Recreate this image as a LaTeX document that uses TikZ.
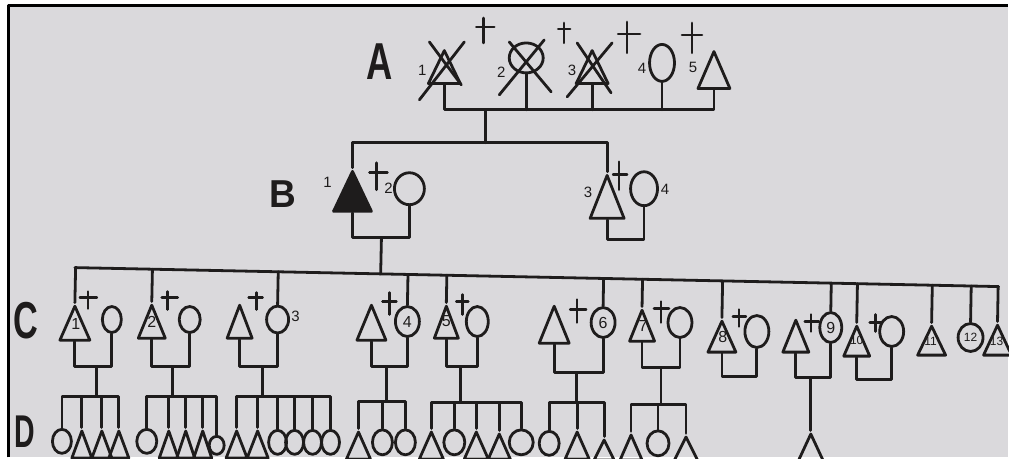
\documentclass[tikz,border=0pt]{standalone}
\usepackage{fontspec}
\usepackage{graphicx}
\setmainfont{Liberation Sans}
\usetikzlibrary{shapes.geometric,calc}
\definecolor{paper}{RGB}{218,217,220}
\definecolor{ink}{RGB}{30,28,28}
\begin{document}
\begin{tikzpicture}[x=1pt,y=-1pt,color=ink,line width=2.8pt,line join=round,line cap=round,
  pt/.style 2 args={draw,isosceles triangle,isosceles triangle stretches,shape border rotate=90,inner sep=0pt,minimum width=#1pt,minimum height=#2pt,anchor=apex},
  pc/.style 2 args={draw,ellipse,inner sep=0pt,minimum width=#1pt,minimum height=#2pt},
  lab/.style={inner sep=0pt,font=\fontsize{15}{15}\selectfont},
  clab/.style={inner sep=0pt,font=\fontsize{16}{16}\selectfont},
  slab/.style={inner sep=0pt,font=\fontsize{12}{12}\selectfont},
  gen/.style={inner sep=0pt,font=\fontsize{#1}{#1}\selectfont\bfseries},
  dag/.style={line width=2.6pt}]
% background and frame
\fill[white] (0,0) rectangle (1009,458);
\fill[paper] (9,6) rectangle (1009,458);
\draw[black,line width=3pt,line cap=butt] (9,458) -- (9,6) -- (1009,6);
\useasboundingbox (0,0) rectangle (1009,458);
% generation letters
\node[gen=52] (GA) at (380,62) {\scalebox{0.7}[1]{A}};
\node[gen=39] (GB) at (283,194) {\scalebox{0.95}[1]{B}};
\node[gen=52] (GC) at (26,321) {\scalebox{0.66}[1]{C}};
\node[gen=46] (GD) at (25,432) {\scalebox{0.62}[1]{D}};
% ---------- generation A ----------
\node[pt={32}{33}] (a1) at (445,47) {};
\node[pc={34}{30}] (a2) at (527,58) {};
\node[pt={32}{33}] (a3) at (593,47) {};
\node[pc={25}{37}] (a4) at (663,63) {};
\node[pt={32}{37}] (a5) at (715,48) {};
\draw (420,100) -- (465,42) (430,42) -- (462,85);
\draw (500,95) -- (545,40) (510,42) -- (552,92);
\draw (568,97) -- (613,43) (578,43) -- (612,93);
\node[lab] (na1) at (423,70) {1};
\node[lab] (na2) at (502,72) {2};
\node[lab] (na3) at (573,70) {3};
\node[lab] (na4) at (643,68) {4};
\node[lab] (na5) at (694,68) {5};
\draw[dag] (484,18) -- (484,43) (477,27) -- (495,27);
\draw[dag] (565,23) -- (565,43) (559,29) -- (571,29);
\draw[dag] (628,22) -- (628,53) (619,34) -- (641,34);
\draw[dag] (693,23) -- (693,53) (683,35) -- (703,35);
\coordinate (ja) at (486,110);
\coordinate (jb) at (486,143);
\draw (a1.south) |- (ja) -| (a5.south);
\draw (a2.south) -- (a2.south |- ja);
\draw (a3.south) -- (a3.south |- ja);
\draw (a4.south) -- (a4.south |- ja);
\draw (ja) -- (jb);
% ---------- generation B ----------
\node[pt={38}{40},fill=ink] (b1) at (353,168) {};
\node[pc={30}{32}] (b2) at (410,189) {};
\node[pt={34}{43}] (b3) at (608,172) {};
\node[pc={27}{34}] (b4) at (645,189) {};
\node[lab] (nb1) at (328,183) {1};
\node[lab] (nb2) at (389,189) {2};
\node[lab] (nb3) at (589,193) {3};
\node[lab] (nb4) at (666,190) {4};
\draw[dag] (377,163) -- (377,190) (370,173) -- (388,173);
\draw[dag] (620,162) -- (620,190) (614,175) -- (628,175);
\draw (b1.north) |- (jb) -| (b3.north);
\coordinate (fb) at (382,238);
\draw (b1.south) |- (fb) -| (b2.south);
\coordinate (fb2) at (634,240);
\draw (b3.south) |- (fb2) -| (b4.south);
% ---------- generation C ----------
\coordinate (CL) at (75,268);
\coordinate (CR) at (1000,287);
\draw (CL) -- (CR);
\draw (fb) -- ($(CL)!(fb)!(CR)$);
\node[pt={30}{34}] (c1) at (75,303) {};
\node[pc={19}{26}] (s1) at (112,320) {};
\node[pt={27}{33}] (c2) at (152,302) {};
\node[pc={21}{26}] (s2) at (190,320) {};
\node[pt={25}{33}] (s3) at (240,302) {};
\node[pc={22}{27}] (c3) at (278,320) {};
\node[pt={29}{35}] (s4) at (372,302) {};
\node[pc={24}{30}] (c4) at (408,322) {};
\node[pt={24}{32}] (c5) at (447,303) {};
\node[pc={22}{30}] (s5) at (478,322) {};
\node[pt={30}{37}] (s6) at (555,303) {};
\node[pc={24}{30}] (c6) at (604,323) {};
\node[pt={25}{31}] (c7) at (643,307) {};
\node[pc={24}{30}] (s7) at (681,323) {};
\node[pt={28}{31}] (c8) at (723,318) {};
\node[pc={24}{32}] (s8) at (758,332) {};
\node[pt={26}{32}] (s9) at (797,317) {};
\node[pc={22}{30}] (c9) at (832,328) {};
\node[pt={26}{30}] (c10) at (858,323) {};
\node[pc={24}{30}] (s10) at (893,332) {};
\node[pt={28}{29}] (c11) at (933,323) {};
\node[pc={25}{28}] (c12) at (972,338) {};
\node[pt={28}{30}] (c13) at (999,322) {};
\node[clab] (nc1) at (76,324) {1};
\node[clab] (nc2) at (152,322) {2};
\node[lab] (nc3) at (296,317) {3};
\node[clab] (nc4) at (c4.center) {4};
\node[clab] (nc5) at (447,322) {5};
\node[clab] (nc6) at (c6.center) {6};
\node[clab] (nc7) at (644,326) {7};
\node[clab] (nc8) at (724,337) {8};
\node[clab] (nc9) at (c9.center) {9};
\node[slab] (nc10) at (858,341) {10};
\node[slab] (nc11) at (932,342) {11};
\node[slab] (nc12) at (c12.center) {12};
\node[slab] (nc13) at (998,342) {13};
\foreach \p in {c1,c2,c3,c4,c5,c6,c7,c8,c9,c10,c11,c12,c13}
  \draw (\p.north) -- ($(CL)!(\p.north)!(CR)$);
\draw[dag] (88,292) -- (88,309) (80,298) -- (97,298);
\draw[dag] (168,292) -- (168,310) (162,298) -- (178,298);
\draw[dag] (257,293) -- (257,310) (249,298) -- (263,298);
\draw[dag] (390,293) -- (390,315) (383,302) -- (397,302);
\draw[dag] (463,295) -- (463,315) (457,302) -- (469,302);
\draw[dag] (578,300) -- (578,323) (571,310) -- (587,310);
\draw[dag] (662,302) -- (662,323) (655,309) -- (670,309);
\draw[dag] (740,310) -- (740,327) (734,317) -- (747,317);
\draw[dag] (812,315) -- (812,332) (806,322) -- (820,322);
\draw[dag] (877,315) -- (877,332) (871,323) -- (883,323);
\coordinate (f1) at (97,367);
\coordinate (f2) at (173,367);
\coordinate (f3) at (263,367);
\coordinate (f4) at (387,367);
\coordinate (f5) at (461,367);
\coordinate (f6) at (577,373);
\coordinate (f7) at (662,368);
\coordinate (f8) at (740,377);
\coordinate (f9) at (812,378);
\coordinate (f10) at (877,380);
\draw (c1.south) |- (f1) -| (s1.south);
\draw (c2.south) |- (f2) -| (s2.south);
\draw (s3.south) |- (f3) -| (c3.south);
\draw (s4.south) |- (f4) -| (c4.south);
\draw (c5.south) |- (f5) -| (s5.south);
\draw (s6.south) |- (f6) -| (c6.south);
\draw (c7.south) |- (f7) -| (s7.south);
\draw (c8.south) |- (f8) -| (s8.south);
\draw (s9.south) |- (f9) -| (c9.south);
\draw (c10.south) |- (f10) -| (s10.south);
% ---------- generation D ----------
% family 1
\node[pc={19}{24}] (k1a) at (62,442) {};
\node[pt={20}{27}] (k1b) at (82,428) {};
\node[pt={20}{27}] (k1c) at (102,428) {};
\node[pt={20}{27}] (k1d) at (119,428) {};
\coordinate (d1) at (97,397);
\draw (f1) -- (d1);
\draw (k1a.north) |- (d1) -| (k1d.north);
\draw (k1b.north) -- (k1b.north |- d1);
\draw (k1c.north) -- (k1c.north |- d1);
% family 2
\node[pc={20}{24}] (k2a) at (147,442) {};
\node[pt={19}{27}] (k2b) at (169,428) {};
\node[pt={18}{27}] (k2c) at (186,428) {};
\node[pt={18}{27}] (k2d) at (203,428) {};
\node[pc={15}{18}] (k2e) at (217,446) {};
\coordinate (d2) at (173,397);
\draw (f2) -- (d2);
\draw (k2a.north) |- (d2) -| (k2e.north);
\draw (k2b.north) -- (k2b.north |- d2);
\draw (k2c.north) -- (k2c.north |- d2);
\draw (k2d.north) -- (k2d.north |- d2);
% family 3
\node[pt={21}{27}] (k3a) at (237,428) {};
\node[pt={21}{27}] (k3b) at (258,428) {};
\node[pc={18}{24}] (k3c) at (278,443) {};
\node[pc={18}{24}] (k3d) at (295,443) {};
\node[pc={18}{24}] (k3e) at (313,443) {};
\node[pc={18}{24}] (k3f) at (331,443) {};
\coordinate (d3) at (263,397);
\draw (f3) -- (d3);
\draw (k3a.north) |- (d3) -| (k3f.north);
\draw (k3b.north) -- (k3b.north |- d3);
\draw (k3c.north) -- (k3c.north |- d3);
\draw (k3d.north) -- (k3d.north |- d3);
\draw (k3e.north) -- (k3e.north |- d3);
% family 4
\node[pt={24}{27}] (k4a) at (359,429) {};
\node[pc={20}{25}] (k4b) at (383,443) {};
\node[pc={20}{25}] (k4c) at (406,443) {};
\coordinate (d4) at (387,402);
\draw (f4) -- (d4);
\draw (k4a.north) |- (d4) -| (k4c.north);
\draw (k4b.north) -- (k4b.north |- d4);
% family 5
\node[pt={24}{27}] (k5a) at (432,429) {};
\node[pc={21}{25}] (k5b) at (455,443) {};
\node[pt={24}{27}] (k5c) at (477,429) {};
\node[pt={22}{25}] (k5d) at (500,431) {};
\node[pc={24}{25}] (k5e) at (522,443) {};
\coordinate (d5) at (461,403);
\draw (f5) -- (d5);
\draw (k5a.north) |- (d5) -| (k5e.north);
\draw (k5b.north) -- (k5b.north |- d5);
\draw (k5c.north) -- (k5c.north |- d5);
\draw (k5d.north) -- (k5d.north |- d5);
% family 6
\node[pc={20}{24}] (k6a) at (550,444) {};
\node[pt={24}{27}] (k6b) at (578,429) {};
\node[pt={20}{20}] (k6c) at (605,437) {};
\coordinate (d6) at (577,403);
\draw (f6) -- (d6);
\draw (k6a.north) |- (d6) -| (k6c.north);
\draw (k6b.north) -- (k6b.north |- d6);
% family 7
\node[pt={22}{25}] (k7a) at (632,432) {};
\node[pc={22}{25}] (k7b) at (659,444) {};
\node[pt={24}{24}] (k7c) at (687,434) {};
\coordinate (d7) at (662,405);
\draw (f7) -- (d7);
\draw (k7a.north) |- (d7) -| (k7c.north);
\draw (k7b.north) -- (k7b.north |- d7);
% family 9
\node[pt={26}{28}] (k9a) at (812,431) {};
\draw (f9) -- (k9a.north);
\end{tikzpicture}
\end{document}
